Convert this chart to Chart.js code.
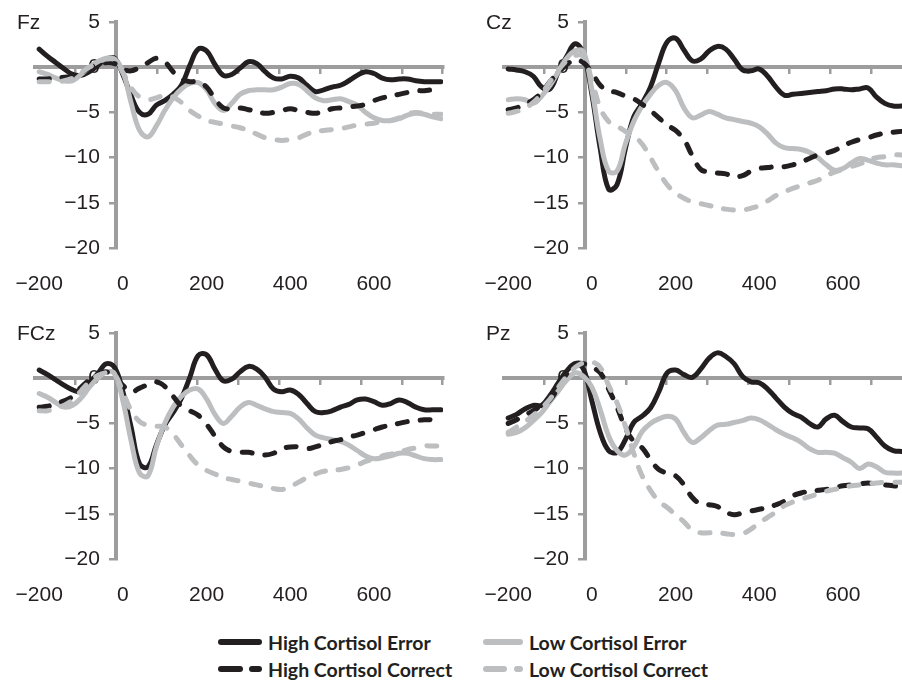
<!DOCTYPE html>
<html>
<head>
<meta charset="utf-8">
<script src="https://cdn.jsdelivr.net/npm/chart.js@4.4.1/dist/chart.umd.min.js"></script>
<style>
html,body{margin:0;padding:0;background:#ffffff;}
body{width:902px;height:680px;overflow:hidden;position:relative;font-family:'Liberation Sans',Arial,sans-serif;color:#231f20;}
.panel{position:absolute;width:460px;height:310px;}
.panel canvas{position:absolute;left:0;top:0;}
.plabel{position:absolute;left:17px;top:11px;font-size:21px;line-height:21px;color:#231f20;}
.item{position:absolute;height:24px;display:flex;align-items:center;font-family:Lato,'Open Sans',sans-serif;font-weight:700;font-size:19.5px;color:#231f20;white-space:nowrap;}
.smp{display:flex;align-items:center;margin-right:6px;}
.seg{height:6px;border-radius:3px;}
</style>
</head>
<body>
<div class="panel" style="left:0;top:0"><canvas id="cFz" width="460" height="310"></canvas><div class="plabel">Fz</div></div>
<div class="panel" style="left:469px;top:0"><canvas id="cCz" width="460" height="310"></canvas><div class="plabel">Cz</div></div>
<div class="panel" style="left:0;top:311px"><canvas id="cFCz" width="460" height="310"></canvas><div class="plabel">FCz</div></div>
<div class="panel" style="left:469px;top:311px"><canvas id="cPz" width="460" height="310"></canvas><div class="plabel">Pz</div></div>

<div class="item" style="left:218px;top:630px"><span class="smp"><span class="seg" style="width:44px;background:#231f20"></span></span>High Cortisol Error</div>
<div class="item" style="left:483px;top:630px"><span class="smp"><span class="seg" style="width:40px;background:#bcbec0"></span></span>Low Cortisol Error</div>
<div class="item" style="left:218px;top:657px"><span class="smp"><span class="seg" style="width:25px;background:#231f20;margin-right:6px"></span><span class="seg" style="width:13px;background:#231f20"></span></span>High Cortisol Correct</div>
<div class="item" style="left:483px;top:657px"><span class="smp"><span class="seg" style="width:24px;background:#bcbec0;margin-right:7px"></span><span class="seg" style="width:9px;background:#bcbec0"></span></span>Low Cortisol Correct</div>

<script>
// time points (ms)
const times = [-200,-180,-160,-140,-120,-100,-80,-60,-40,-20,0,20,40,60,80,100,120,140,160,180,200,220,240,260,280,300,320,340,360,380,400,420,440,460,480,500,520,540,560,580,600,620,640,660,680,700,720,740,760];

// tick values
const xTickMarks = [-115,-17,81,178,276,374,471,569,667,764];
const xTickLabels = [-200,0,200,400,600];
const yTickValues = [5,0,-5,-10,-15,-20];

// Fz
const fzHighError   = [2.0,1.2,0.5,-0.2,-0.8,-0.9,-0.5,0.2,0.9,1.0,-0.8,-3.2,-5.0,-5.2,-4.2,-3.7,-3.0,-2.0,0.2,2.0,1.8,0.3,-0.9,-0.8,-0.1,0.6,0.4,-0.5,-1.2,-1.3,-1.0,-1.2,-2.0,-2.7,-2.5,-2.2,-2.0,-1.5,-0.9,-0.5,-0.7,-1.2,-1.4,-1.3,-1.3,-1.5,-1.6,-1.6,-1.6];
const fzLowError    = [-0.5,-0.8,-1.2,-1.5,-1.5,-0.8,0.0,0.6,1.0,0.9,-0.5,-4.0,-7.0,-7.7,-6.5,-4.8,-3.4,-2.4,-1.8,-1.7,-2.5,-4.0,-4.8,-4.0,-3.0,-2.6,-2.5,-2.5,-2.5,-2.2,-1.8,-1.9,-2.6,-3.4,-3.7,-3.6,-3.5,-3.8,-4.2,-5.0,-5.6,-5.9,-5.9,-5.7,-5.3,-5.1,-5.2,-5.5,-5.7];
const fzHighCorrect = [-1.3,-1.3,-1.2,-1.1,-1.0,-0.6,-0.1,0.3,0.5,0.4,-0.2,-0.4,0.0,0.5,1.0,0.6,-0.5,-1.3,-1.6,-1.6,-2.2,-3.5,-4.5,-4.6,-4.5,-4.7,-4.9,-5.1,-5.0,-4.8,-4.6,-4.8,-5.0,-5.1,-4.9,-4.6,-4.5,-4.4,-4.3,-4.1,-3.7,-3.4,-3.2,-3.0,-2.8,-2.6,-2.6,-2.5,-2.5];
const fzLowCorrect  = [-1.6,-1.6,-1.6,-1.5,-1.2,-0.6,0.0,0.5,0.9,0.8,-0.6,-2.3,-3.3,-3.6,-3.4,-3.1,-3.3,-3.9,-4.8,-5.4,-5.9,-6.1,-6.3,-6.5,-6.7,-7.0,-7.4,-7.8,-8.0,-8.1,-8.0,-7.8,-7.4,-7.1,-7.0,-6.9,-6.8,-6.6,-6.4,-6.3,-6.2,-6.0,-5.9,-5.6,-5.2,-5.0,-5.1,-5.2,-5.2];

// Cz
const czHighError   = [-0.2,-0.3,-0.5,-1.0,-2.2,-2.4,-0.5,1.2,2.6,1.5,-3.0,-9.0,-13.5,-13.0,-9.0,-5.5,-4.0,-2.2,0.5,2.8,3.2,1.9,0.7,0.9,1.8,2.3,2.0,0.9,-0.3,-0.4,-0.2,-1.0,-2.2,-3.1,-3.0,-2.9,-2.8,-2.7,-2.6,-2.4,-2.4,-2.5,-2.4,-2.3,-3.3,-4.0,-4.3,-4.3,-4.3];
const czLowError    = [-3.6,-3.5,-3.6,-4.0,-3.2,-2.0,-0.5,1.0,1.8,1.7,-2.5,-8.0,-11.5,-11.5,-8.5,-6.0,-4.3,-3.0,-2.0,-1.7,-2.6,-4.5,-5.6,-5.3,-4.9,-5.2,-5.6,-5.8,-6.0,-6.2,-6.6,-7.4,-8.4,-8.9,-9.0,-9.1,-9.4,-10.0,-10.8,-11.4,-11.2,-10.6,-10.1,-10.3,-10.6,-10.8,-10.8,-10.9,-10.9];
const czHighCorrect = [-4.7,-4.5,-4.1,-3.6,-2.8,-1.6,-0.6,0.3,0.8,0.5,-0.6,-2.0,-2.6,-2.8,-3.2,-3.5,-4.1,-4.8,-5.6,-6.4,-7.0,-8.0,-9.8,-11.3,-11.6,-11.7,-11.8,-12.1,-12.0,-11.5,-11.2,-11.1,-11.0,-11.0,-10.8,-10.5,-10.1,-9.7,-9.5,-9.2,-8.7,-8.3,-8.0,-7.8,-7.5,-7.3,-7.2,-7.1,-7.0];
const czLowCorrect  = [-5.1,-4.9,-4.5,-3.9,-2.9,-1.6,-0.3,0.7,1.3,1.2,-1.5,-4.5,-6.0,-6.5,-7.1,-7.6,-8.5,-10.0,-11.6,-13.0,-13.9,-14.5,-14.9,-15.1,-15.3,-15.5,-15.7,-15.8,-15.8,-15.6,-15.3,-14.8,-14.2,-13.8,-13.4,-13.1,-12.8,-12.5,-12.0,-11.6,-11.3,-11.0,-10.7,-10.3,-10.0,-9.9,-9.7,-9.7,-9.7];

// FCz
const fczHighError   = [0.9,0.4,-0.2,-0.8,-1.3,-1.5,-0.5,0.5,1.6,1.2,-1.5,-5.5,-9.5,-9.8,-7.4,-5.2,-3.8,-2.2,0.1,2.5,2.6,1.0,-0.3,-0.1,0.7,1.3,1.0,0.1,-1.2,-1.5,-1.3,-1.8,-2.8,-3.7,-3.8,-3.6,-3.2,-2.9,-2.4,-2.3,-2.6,-3.0,-2.8,-2.4,-2.7,-3.2,-3.5,-3.5,-3.5];
const fczLowError    = [-1.7,-2.1,-2.7,-3.2,-3.0,-2.2,-1.0,0.0,0.7,0.5,-2.5,-7.0,-10.5,-10.8,-7.6,-5.0,-3.2,-2.0,-1.3,-1.2,-2.3,-4.0,-5.0,-4.2,-3.2,-2.7,-3.0,-3.4,-3.7,-3.8,-3.9,-4.5,-5.5,-6.3,-6.6,-6.8,-7.0,-7.4,-8.0,-8.6,-8.9,-8.8,-8.6,-8.3,-8.3,-8.6,-8.9,-9.0,-9.0];
const fczHighCorrect = [-3.2,-3.1,-2.8,-2.5,-2.0,-1.0,-0.2,0.4,0.7,0.2,-0.8,-1.5,-1.1,-0.7,-0.4,-0.9,-2.0,-3.1,-3.6,-4.1,-5.1,-6.4,-7.6,-8.1,-8.2,-8.2,-8.4,-8.5,-8.3,-7.8,-7.6,-7.6,-7.8,-7.6,-7.3,-7.0,-6.8,-6.5,-6.3,-6.0,-5.7,-5.4,-5.2,-5.0,-4.8,-4.7,-4.6,-4.6,-4.6];
const fczLowCorrect  = [-3.6,-3.6,-3.3,-3.0,-2.4,-1.4,-0.4,0.3,0.6,0.4,-1.5,-3.6,-4.8,-5.2,-5.3,-5.4,-6.2,-7.4,-8.6,-9.6,-10.2,-10.6,-11.0,-11.2,-11.4,-11.6,-11.8,-12.0,-12.2,-12.3,-12.0,-11.5,-11.0,-10.6,-10.3,-10.2,-10.1,-9.9,-9.6,-9.2,-8.9,-8.6,-8.4,-8.2,-7.9,-7.7,-7.5,-7.5,-7.5];

// Pz
const pzHighError   = [-4.4,-4.0,-3.4,-3.0,-3.0,-1.9,-0.5,0.8,1.6,1.0,-2.5,-6.0,-8.0,-8.2,-6.8,-4.9,-4.2,-3.3,-1.5,0.6,0.9,0.4,0.1,1.0,2.2,2.8,2.4,1.6,0.2,-0.4,-0.5,-1.2,-2.2,-3.2,-3.9,-4.3,-5.0,-5.4,-4.5,-4.1,-4.8,-5.4,-5.5,-5.6,-6.5,-7.5,-8.0,-8.1,-8.1];
const pzLowError    = [-6.2,-6.0,-5.5,-4.7,-3.8,-2.6,-1.4,-0.2,0.6,0.2,-1.0,-3.5,-6.4,-8.0,-8.5,-7.6,-5.9,-5.0,-4.5,-4.2,-4.5,-6.0,-7.1,-6.6,-5.8,-5.2,-5.1,-4.9,-4.7,-4.4,-4.6,-5.1,-5.7,-6.2,-6.6,-7.1,-7.8,-8.2,-8.2,-8.3,-8.8,-9.3,-10.0,-9.5,-9.8,-10.4,-10.5,-10.5,-10.5];
const pzHighCorrect = [-5.0,-4.6,-4.1,-3.6,-3.0,-2.4,-1.0,0.5,1.6,1.6,1.2,0.6,-1.2,-3.2,-5.5,-7.0,-7.7,-9.0,-10.1,-10.5,-10.8,-11.8,-13.2,-13.9,-14.0,-14.2,-14.8,-15.1,-14.9,-14.7,-14.5,-14.3,-14.0,-13.6,-13.0,-12.7,-12.5,-12.4,-12.3,-12.1,-11.9,-11.8,-11.7,-11.6,-11.7,-11.8,-11.9,-12.0,-12.0];
const pzLowCorrect  = [-6.0,-5.4,-4.8,-4.1,-3.3,-2.3,-1.0,0.2,1.2,1.7,1.8,1.2,-0.8,-2.7,-5.3,-8.3,-10.8,-12.4,-13.6,-14.3,-15.1,-15.9,-16.8,-17.1,-17.1,-17.1,-17.2,-17.3,-17.2,-16.7,-16.0,-15.4,-14.8,-14.1,-13.7,-13.4,-13.1,-12.8,-12.5,-12.3,-12.1,-11.9,-11.8,-11.7,-11.6,-11.5,-11.5,-11.5,-11.5];

const seriesNames = ['High Cortisol Error','Low Cortisol Error','High Cortisol Correct','Low Cortisol Correct'];

const BLACK = '#231f20';
const GREY = '#bcbec0';
const AXIS = '#9d9d9d';
const FONT = {family:"'Liberation Sans', Arial, sans-serif", size:21};

function fmt(v){ return v < 0 ? '\u2212' + Math.abs(v) : String(v); }
function pts(arr){ return times.map((t,i)=>({x:t, y:arr[i]})); }
function noPad(s){ s.paddingLeft = 0; s.paddingRight = 0; s.paddingTop = 0; s.paddingBottom = 0; }

function makeChart(id, hErr, lErr, hCor, lCor){
  const styles = [
    {data:hErr, color:BLACK, dash:[], order:4},
    {data:lErr, color:GREY, dash:[], order:3},
    {data:hCor, color:BLACK, dash:[10,13], order:2},
    {data:lCor, color:GREY, dash:[10,13], order:1}
  ];
  new Chart(document.getElementById(id), {
    type:'line',
    data:{
      datasets: styles.map((s,i)=>({
        label: seriesNames[i],
        data: pts(s.data),
        borderColor: s.color,
        borderWidth: 5,
        borderDash: s.dash,
        borderCapStyle: 'round',
        borderJoinStyle: 'round',
        pointRadius: 0,
        tension: 0.4,
        fill: false,
        order: s.order,
        xAxisID: 'x',
        yAxisID: 'y'
      }))
    },
    options:{
      responsive:false,
      animation:false,
      devicePixelRatio:1,
      layout:{padding:{left:35,right:17,top:22,bottom:12}},
      plugins:{legend:{display:false}, tooltip:{enabled:false}, title:{display:false}},
      scales:{
        x:{
          type:'linear', min:-210, max:765, position:{y:0},
          border:{display:true, color:AXIS, width:4},
          grid:{drawOnChartArea:false, drawTicks:true, tickLength:5, color:AXIS, lineWidth:2.5},
          ticks:{display:false},
          afterBuildTicks: s => { s.ticks = xTickMarks.map(v=>({value:v})); },
          afterFit: noPad
        },
        xb:{
          type:'linear', min:-210, max:765, position:'bottom',
          border:{display:false},
          grid:{display:false, drawTicks:false},
          ticks:{padding:24, font:FONT, color:BLACK, maxRotation:0, autoSkip:false, callback: v => fmt(v)},
          afterBuildTicks: s => { s.ticks = xTickLabels.map(v=>({value:v})); },
          afterFit: s => { noPad(s); s.height = 50; }
        },
        y:{
          type:'linear', min:-20, max:5, position:{x:-17},
          border:{display:true, color:AXIS, width:4},
          grid:{drawOnChartArea:false, drawTicks:true, tickLength:5, color:AXIS, lineWidth:2.5},
          ticks:{display:false},
          afterBuildTicks: s => { s.ticks = yTickValues.map(v=>({value:v})); },
          afterFit: noPad
        },
        yl:{
          type:'linear', min:-20, max:5, position:{x:-55},
          border:{display:false},
          grid:{display:false, drawTicks:false},
          ticks:{font:FONT, color:BLACK, autoSkip:false, callback: v => fmt(v)},
          afterBuildTicks: s => { s.ticks = yTickValues.map(v=>({value:v})); },
          afterFit: noPad
        }
      }
    }
  });
}

makeChart('cFz', fzHighError, fzLowError, fzHighCorrect, fzLowCorrect);
makeChart('cCz', czHighError, czLowError, czHighCorrect, czLowCorrect);
makeChart('cFCz', fczHighError, fczLowError, fczHighCorrect, fczLowCorrect);
makeChart('cPz', pzHighError, pzLowError, pzHighCorrect, pzLowCorrect);
</script>
</body>
</html>
